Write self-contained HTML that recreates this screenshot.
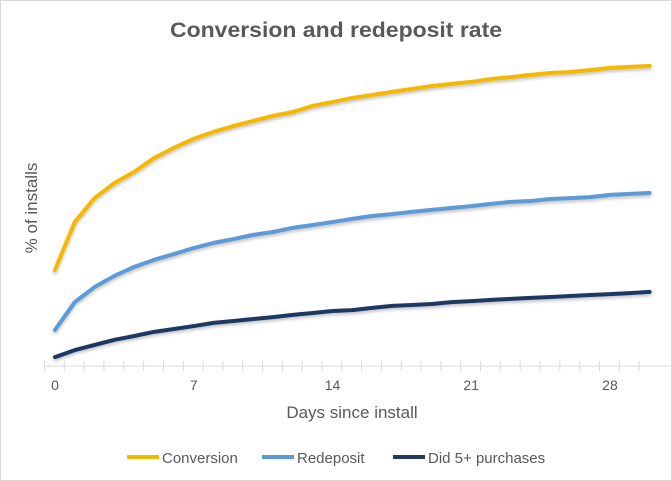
<!DOCTYPE html>
<html><head><meta charset="utf-8"><style>
html,body{margin:0;padding:0;background:#fff;}
svg{display:block;font-family:"Liberation Sans",sans-serif;}
</style></head><body>
<svg id="chart" width="672" height="481" viewBox="0 0 672 481">
<defs><filter id="sh" x="-5%" y="-5%" width="110%" height="120%"><feDropShadow dx="0" dy="2" stdDeviation="1.5" flood-color="#000" flood-opacity="0.25"/></filter></defs>
<rect x="0.5" y="0.5" width="671" height="480" fill="#fff" stroke="#d9d9d9"/>
<text x="170" y="37" textLength="332" lengthAdjust="spacingAndGlyphs" font-size="21" font-weight="bold" fill="#595959">Conversion and redeposit rate</text>
<text transform="translate(37,208) rotate(-90)" text-anchor="middle" font-size="17" fill="#595959">% of installs</text>
<text x="352" y="418" text-anchor="middle" font-size="17" fill="#595959">Days since install</text>
<g id="axis"></g>
<g id="series" filter="url(#sh)"></g>
<g id="legend"></g>
</svg>
<script>
const days = Array.from({length:31},(_,i)=>i);
const xTickLabels = ["0","7","14","21","28"];
const conversion = [30.6,45.6,53.1,57.8,61.3,65.6,68.8,71.6,73.8,75.6,77.2,78.8,80,81.9,83.1,84.4,85.3,86.3,87.2,88.1,88.8,89.4,90.3,90.9,91.6,92.2,92.5,93.1,93.8,94.1,94.4];
const redeposit = [11.9,20.6,25.3,28.8,31.6,33.8,35.6,37.5,39.1,40.3,41.6,42.5,43.8,44.7,45.6,46.6,47.5,48.1,48.8,49.4,50,50.6,51.3,51.9,52.2,52.8,53.1,53.4,54.1,54.4,54.7];
const did5 = [3.4,5.6,7.2,8.8,10,11.3,12.2,13.1,14.1,14.7,15.3,15.9,16.6,17.2,17.8,18.1,18.8,19.4,19.7,20,20.6,20.9,21.3,21.6,21.9,22.2,22.5,22.8,23.1,23.4,23.8];
const seriesNames = ["Conversion","Redeposit","Did 5+ purchases"];
const colors = ["#f5b800","#5b9bd5","#1f3864"];
const NS="http://www.w3.org/2000/svg";
const x = d => 55 + d*19.82;
const y = v => 368 - v*3.2;
const axis=document.getElementById('axis');
function mk(tag,attrs,parent){const e=document.createElementNS(NS,tag);for(const k in attrs)e.setAttribute(k,attrs[k]);parent.appendChild(e);return e;}
let l=mk('line',{x1:44,x2:672,y1:366,y2:366,stroke:'#d9d9d9','stroke-width':1},axis);


days.forEach(d=>{
  const t=mk('line',{x1:x(d)-10.5,x2:x(d)-10.5,y1:361,y2:371,stroke:'#d9d9d9'},axis);
  
  
});
xTickLabels.forEach(s=>{
  const t=mk('text',{x:x(+s),y:390,'text-anchor':'middle','font-size':14,fill:'#595959'},axis);
  t.textContent=s;
  
  
});
const sg=document.getElementById('series');
[conversion,redeposit,did5].forEach((arr,i)=>{
  const p=mk('polyline',{points:arr.map((v,d)=>x(d)+','+y(v)).join(' '),fill:'none',stroke:colors[i],'stroke-width':4,'stroke-linejoin':'round','stroke-linecap':'round'},sg);
  
  
});
const lg=document.getElementById('legend');
const lx=[127,262,393];
seriesNames.forEach((n,i)=>{
  const g=mk('g',{},lg);
  
  
  mk('line',{x1:lx[i],x2:lx[i]+32,y1:457,y2:457,stroke:colors[i],'stroke-width':4},g);
  const t=mk('text',{x:lx[i]+35,y:463,'font-size':15,fill:'#595959'},g);
  t.textContent=n;
});
</script>
</body></html>
